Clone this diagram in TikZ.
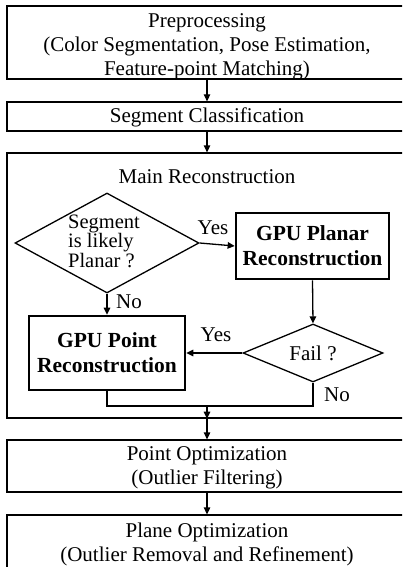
\documentclass[tikz,border=0pt]{standalone}
\usepackage{fontspec}
\setmainfont{Liberation Serif}
\usetikzlibrary{shapes.geometric,arrows.meta}
\begin{document}
\begin{tikzpicture}[x=1pt,y=-1pt,
  font=\fontsize{21}{24}\selectfont,
  line width=1.3pt,
  plainbox/.style={draw,rectangle,inner sep=0pt,align=center,minimum width=400pt},
  gpubox/.style={draw,rectangle,inner sep=0pt,align=center,line width=2.7pt,font=\fontsize{21.5}{25}\selectfont\bfseries},
  decision/.style={draw,diamond,inner sep=0pt},
  lbl/.style={inner sep=0pt,align=center},
  arr/.style={-{Triangle[length=7pt,width=6.5pt]}}]
\useasboundingbox (0,0) rectangle (402,567);
\clip (0,0) rectangle (402,567);
% boxes
\node[plainbox,minimum height=73pt] (pre) at (207,42.5) {};
\node[lbl] (pret) at (207,47) {Preprocessing\\(Color Segmentation, Pose Estimation,\\Feature-point Matching)};
\node[plainbox,minimum height=29pt] (seg) at (207,116.5) {};
\node[lbl] (segt) at (207,117.5) {Segment Classification};
\node[plainbox,minimum height=265pt] (main) at (207,285.5) {};
\node[lbl] (maint) at (207,177) {Main Reconstruction};
\node[decision,minimum width=184pt,minimum height=100pt] (d1) at (107,243) {};
\node[lbl,align=left,font=\fontsize{20.5}{19.5}\selectfont] (d1t) at (104,241) {Segment\\is likely\\Planar ?};
\node[gpubox,minimum width=153pt,minimum height=66pt] (plan) at (312.5,246) {GPU Planar\\Reconstruction};
\node[decision,minimum width=140pt,minimum height=58pt] (d2) at (313,353) {};
\node[lbl] (d2t) at (313,353) {Fail ?};
\node[gpubox,minimum width=156pt,minimum height=74pt] (pt) at (107,353) {GPU Point\\Reconstruction};
\node[plainbox,minimum height=52pt] (po) at (207,466) {};
\node[lbl] (pot) at (207,468) {Point Optimization\\(Outlier Filtering)};
\node[plainbox,minimum height=70pt] (pl) at (207,550) {};
\node[lbl] (plt) at (207,544.5) {Plane Optimization\\(Outlier Removal and Refinement)};
% labels
\node[lbl] (yes1) at (213,228) {Yes};
\node[lbl] (no1) at (129,302) {No};
\node[lbl] (yes2) at (216,335) {Yes};
\node[lbl] (no2) at (337,395) {No};
% connectors
\coordinate (j) at (207,406);
\draw[arr] (pre.south) -- (seg.north);
\draw[arr] (seg.south) -- (main.north);
\draw[arr] (d1.east) -- (plan.west);
\draw[arr] (d1.south) -- (pt.north);
\draw[arr] (plan.south) -- (d2.north);
\draw[arr] (d2.west) -- (pt.east);
\draw (pt.south) |- (j) -| (d2.south);
\draw[arr] (j) -- (main.south);
\draw[arr] (main.south) -- (po.north);
\draw[arr] (po.south) -- (pl.north);
\end{tikzpicture}
\end{document}
